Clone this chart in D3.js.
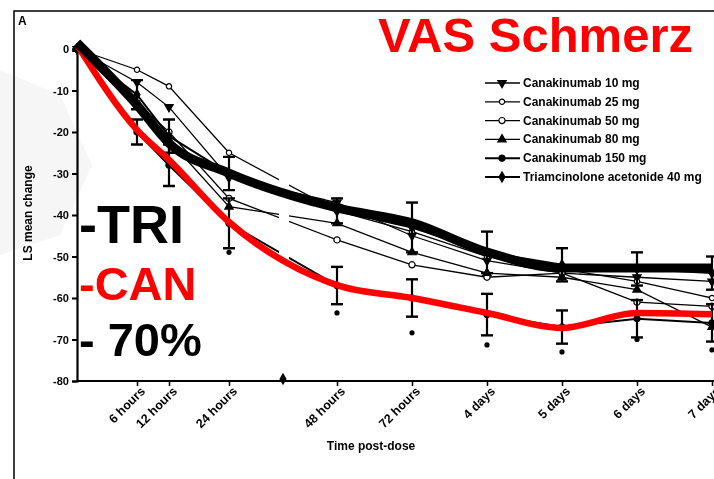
<!DOCTYPE html>
<html>
<head>
<meta charset="utf-8">
<script src="https://cdn.jsdelivr.net/npm/d3@7"></script>
<style>
    body { margin: 0; background: #fff; }
    svg text { font-family: "Liberation Sans", Arial, sans-serif; }
</style>
</head>
<body>
<div id="chart"></div>
<script>
// time points (hours post-dose)
var hours = [0, 6, 12, 24, 48, 72, 96, 120, 144, 168];
var tickHours = [6, 12, 24, 48, 72, 96, 120, 144, 168];
var tickLabels = ["6 hours", "12 hours", "24 hours", "48 hours", "72 hours", "4 days", "5 days", "6 days", "7 days"];
var yTicks = [0, -10, -20, -30, -40, -50, -60, -70, -80];
var legendNames = ["Canakinumab 10 mg", "Canakinumab 25 mg", "Canakinumab 50 mg",
    "Canakinumab 80 mg", "Canakinumab 150 mg", "Triamcinolone acetonide 40 mg"];

// LS mean change in VAS pain
var can10 = [0, -8, -14, -31, -37, -45, -51, -54, -55, -56];
var can25 = [0, -5, -9, -25, -39, -44, -50, -53, -56, -60];
var can50 = [0, -13, -20, -36, -46, -52, -55, -54, -61, -62];
var can80 = [0, -14, -22, -38, -42, -49, -54, -55, -58, -67];
var can150 = [0, -20, -28, -42, -57, -60, -64, -67, -65, -66];
var tri40 = [0, -11, -21, -30, -39, -43, -49, -52, -53, -54];
var can150Err = [0, 3, 5, 6, 4.5, 4.5, 5, 4, 4.5, 4.5];
var tri40Err = [0, 3.5, 4, 4, 3, 6, 5, 4, 4, 4];
var lowDots = [null, null, null, -49, -63.6, -68.4, -71.3, -73, -70, -72.5];

// hand-drawn overlay curves
var triOverlay = [1.5, -13.5, -22.7, -29.9, -38.3, -41.9, -48.9, -52.8, -52.8, -52.8];
var canOverlay = [1, -19.5, -26.7, -41.7, -56.9, -60, -63.6, -67.2, -63.6, -63.9];

var width = 714, height = 479;

var svg = d3.select("#chart").append("svg")
    .attr("width", width)
    .attr("height", height);

var defs = svg.append("defs");
defs.append("filter").attr("id", "soft")
    .append("feGaussianBlur").attr("stdDeviation", 0.55);
defs.append("clipPath").attr("id", "gap")
    .selectAll("rect").data([[0, 279], [289, width]]).enter().append("rect")
    .attr("x", function (d) { return d[0]; })
    .attr("y", 0)
    .attr("width", function (d) { return d[1] - d[0]; })
    .attr("height", height);

var x = d3.scaleLinear().domain([0, 6, 12, 24, 48, 168]).range([77, 137, 169, 229, 337, 712]);
var y = d3.scaleLinear().domain([-80, 0]).range([381, 49]);

// faint watermark at left
svg.append("path")
    .attr("d", "M0,70 L60,95 L92,165 L60,235 L0,255 Z")
    .attr("fill", "#f6f6f6");

// frame
svg.append("path")
    .attr("d", "M14,479 L14,11 L714,11")
    .attr("fill", "none")
    .attr("stroke", "#000")
    .attr("stroke-width", 1.5);

var orig = svg.append("g").attr("filter", "url(#soft)");

orig.append("text")
    .attr("x", 18).attr("y", 25)
    .style("font-size", "12px").style("font-weight", "bold")
    .text("A");

// y axis
var yAxis = orig.append("g")
    .attr("transform", "translate(" + x(0) + ",0)")
    .call(d3.axisLeft(y).tickValues(yTicks).tickSize(5).tickPadding(3).tickFormat(function (d) { return String(d); }));
yAxis.select(".domain").attr("stroke-width", 2.2);
yAxis.selectAll(".tick line").attr("stroke-width", 2);
yAxis.selectAll("text").style("font-size", "11px").style("font-weight", "bold");

orig.append("text")
    .attr("transform", "translate(32,213) rotate(-90)")
    .style("text-anchor", "middle")
    .style("font-size", "12px").style("font-weight", "bold")
    .text("LS mean change");

// x axis
var xAxis = orig.append("g")
    .attr("transform", "translate(0," + y(-80) + ")")
    .call(d3.axisBottom(x).tickValues(tickHours).tickSize(5).tickFormat(function (d, i) { return tickLabels[i]; }));
xAxis.select(".domain").attr("d", "M" + x(0) + ",0H" + width).attr("stroke-width", 2.2);
xAxis.selectAll(".tick line").attr("stroke-width", 1.5);
xAxis.selectAll("text")
    .style("font-size", "12.5px").style("font-weight", "bold")
    .style("text-anchor", "end")
    .attr("dx", "-0.15em").attr("dy", "0.45em")
    .attr("transform", "rotate(-45)");

orig.append("path")
    .attr("transform", "translate(" + x(36) + "," + (y(-80) - 2) + ")")
    .attr("d", d3.symbol().type(d3.symbolDiamond).size(45)())
    .attr("fill", "#000");

orig.append("text")
    .attr("x", 371).attr("y", 450)
    .style("text-anchor", "middle")
    .style("font-size", "12px").style("font-weight", "bold")
    .text("Time post-dose");

// thin series
var series = [
    {values: can10, sym: d3.symbolTriangle, rot: 180, fill: "#000", w: 1.3},
    {values: can25, sym: d3.symbolCircle, rot: 0, fill: "#fff", w: 1.3, size: 22},
    {values: can50, sym: d3.symbolCircle, rot: 0, fill: "#fff", w: 1.3},
    {values: can80, sym: d3.symbolTriangle, rot: 0, fill: "#000", w: 1.3},
    {values: can150, sym: d3.symbolCircle, rot: 0, fill: "#000", w: 2, err: can150Err},
    {values: tri40, sym: d3.symbolDiamond, rot: 0, fill: "#000", w: 2, err: tri40Err}
];

var line = d3.line()
    .x(function (d, i) { return x(hours[i]); })
    .y(function (d) { return y(d); });

var plot = orig.append("g").attr("clip-path", "url(#gap)");

series.forEach(function (s) {
    plot.append("path")
        .attr("d", line(s.values))
        .attr("fill", "none")
        .attr("stroke", "#000")
        .attr("stroke-width", s.w);

    if (s.err) {
        var eb = plot.append("g");
        s.values.forEach(function (v, i) {
            if (i === 0) return;
            var cx = x(hours[i]);
            eb.append("line")
                .attr("x1", cx).attr("x2", cx)
                .attr("y1", y(v + s.err[i])).attr("y2", y(v - s.err[i]))
                .attr("stroke", "#000").attr("stroke-width", 2.2);
            [v + s.err[i], v - s.err[i]].forEach(function (e) {
                eb.append("line")
                    .attr("x1", cx - 6).attr("x2", cx + 6)
                    .attr("y1", y(e)).attr("y2", y(e))
                    .attr("stroke", "#000").attr("stroke-width", 2.4);
            });
        });
    }

    plot.selectAll(null).data(s.values).enter().append("path")
        .attr("transform", function (d, i) { return "translate(" + x(hours[i]) + "," + y(d) + ") rotate(" + s.rot + ")"; })
        .attr("d", d3.symbol().type(s.sym).size(s.size || 30))
        .attr("fill", s.fill)
        .attr("stroke", "#000")
        .attr("stroke-width", 1.2);
});

plot.selectAll("circle.low").data(lowDots).enter()
    .filter(function (d) { return d !== null; })
    .append("circle")
    .attr("class", "low")
    .attr("cx", function (d) { return x(hours[lowDots.indexOf(d)]); })
    .attr("cy", function (d) { return y(d); })
    .attr("r", 2.6)
    .attr("fill", "#000");

// legend
var legend = orig.append("g").attr("transform", "translate(485,83)");
var item = legend.selectAll("g").data(series).enter().append("g")
    .attr("transform", function (d, i) { return "translate(0," + (i * 18.8) + ")"; });
item.append("line")
    .attr("x1", 0).attr("x2", 35)
    .attr("stroke", "#000")
    .attr("stroke-width", function (d) { return d.w; });
item.append("path")
    .attr("transform", function (d) { return "translate(17,0) rotate(" + d.rot + ")"; })
    .attr("d", function (d) { return d3.symbol().type(d.sym).size(d.size || 30)(); })
    .attr("fill", function (d) { return d.fill; })
    .attr("stroke", "#000")
    .attr("stroke-width", 1.2);
item.append("text")
    .attr("x", 38).attr("y", 4)
    .style("font-size", "12px").style("font-weight", "bold")
    .text(function (d, i) { return legendNames[i]; });

// overlays
var smooth = d3.line()
    .x(function (d, i) { return x(hours[i]); })
    .y(function (d) { return y(d); })
    .curve(d3.curveMonotoneX);

svg.append("path")
    .attr("d", smooth(canOverlay))
    .attr("fill", "none")
    .attr("stroke", "#f00")
    .attr("stroke-width", 6.5);

svg.append("path")
    .attr("d", smooth(triOverlay))
    .attr("fill", "none")
    .attr("stroke", "#000")
    .attr("stroke-width", 9);

svg.append("text")
    .attr("x", 378).attr("y", 52)
    .attr("fill", "#f00")
    .style("font-size", "49px").style("font-weight", "bold")
    .text("VAS Schmerz");

var notes = [
    {t: "-TRI", c: "#000", y: 243, s: 54},
    {t: "-CAN", c: "#f00", y: 300, s: 47},
    {t: "- 70%", c: "#000", y: 356, s: 47}
];
svg.selectAll("text.note").data(notes).enter().append("text")
    .attr("class", "note")
    .attr("x", 79)
    .attr("y", function (d) { return d.y; })
    .attr("fill", function (d) { return d.c; })
    .style("font-size", function (d) { return d.s + "px"; })
    .style("font-weight", "bold")
    .text(function (d) { return d.t; });
</script>
</body>
</html>
